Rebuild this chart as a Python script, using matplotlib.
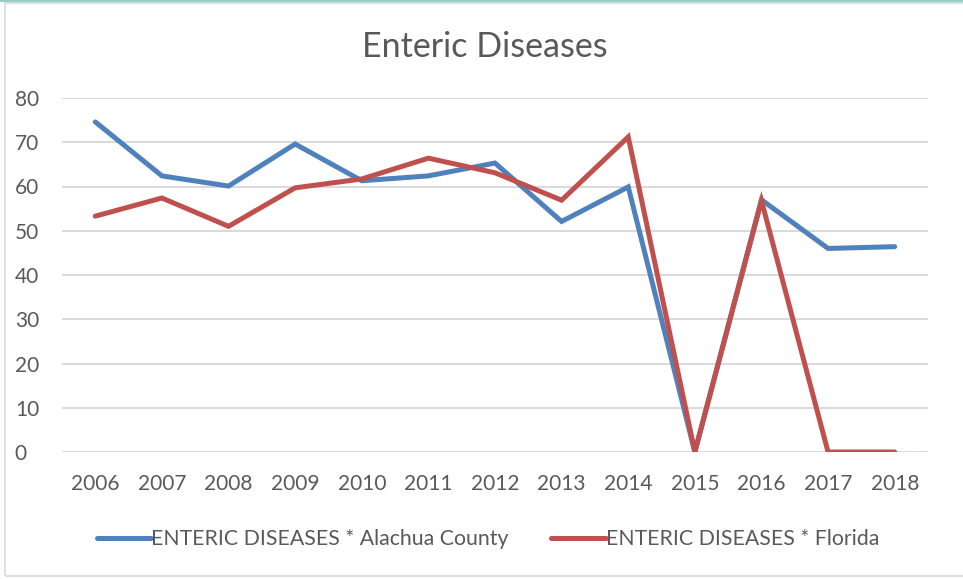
import matplotlib
matplotlib.use("Agg")
import matplotlib.pyplot as plt
from matplotlib.lines import Line2D
from matplotlib.patches import Rectangle

plt.rcParams['font.family'] = ['Lato', 'DejaVu Sans']

# data
years = [2006, 2007, 2008, 2009, 2010, 2011, 2012, 2013, 2014, 2015, 2016, 2017, 2018]
alachua = [74.6, 62.4, 60.1, 69.6, 61.3, 62.4, 65.3, 52.1, 59.9, 0, 57.0, 46.0, 46.4]
florida = [53.3, 57.4, 51.0, 59.7, 61.7, 66.4, 63.1, 56.9, 71.2, 0, 56.8, 0, 0]
yticks = [0, 10, 20, 30, 40, 50, 60, 70, 80]

text_col = '#595959'

fig = plt.figure(figsize=(9.63, 5.79), dpi=100)
ax = fig.add_axes([62 / 963, 1 - 452 / 579, 866 / 963, 354 / 579])

ax.plot(years, alachua, color='#4F81BD', linewidth=3.6, solid_capstyle='round',
        solid_joinstyle='miter', label='ENTERIC DISEASES * Alachua County', zorder=3)
ax.plot(years, florida, color='#C0504D', linewidth=3.6, solid_capstyle='round',
        solid_joinstyle='miter', label='ENTERIC DISEASES * Florida', zorder=4)

ax.set_xlim(years[0] - 0.5, years[-1] + 0.5)
ax.set_ylim(0, 80)
ax.set_yticks(yticks)
ax.set_xticks(years)
ax.set_xticklabels([str(y) for y in years])
ax.grid(axis='y', color='#D9D9D9', linewidth=1.4, zorder=0)
ax.set_axisbelow(True)
for s in ax.spines.values():
    s.set_visible(False)
ax.tick_params(length=0, labelsize=15, colors=text_col)
ax.tick_params(axis='x', pad=16)
# y labels are left aligned at the chart edge, like Excel
ax.tick_params(axis='y', pad=34)
for lab in ax.get_yticklabels():
    lab.set_horizontalalignment('left')

fig.text(485 / 963, 1 - 47 / 579, 'Enteric Diseases', ha='center', va='center',
         fontsize=24.5, color=text_col)

leg = fig.legend(loc='center', bbox_to_anchor=(488 / 963, 1 - 539 / 579), ncol=2,
                 frameon=False, fontsize=15.3, handlelength=2.55, handletextpad=0.0,
                 columnspacing=2.0, labelcolor=text_col)

# chart frame
fig.add_artist(Rectangle((5 / 963, 3 / 579), 1.0, 1 - 6 / 579, transform=fig.transFigure,
                         fill=False, edgecolor='#D9D9D9', linewidth=1.2))
fig.add_artist(Line2D([0, 1], [1 - 1 / 579, 1 - 1 / 579], transform=fig.transFigure,
                      color='#8FD3C8', linewidth=1.5))

fig.savefig('out.png', dpi=100)
